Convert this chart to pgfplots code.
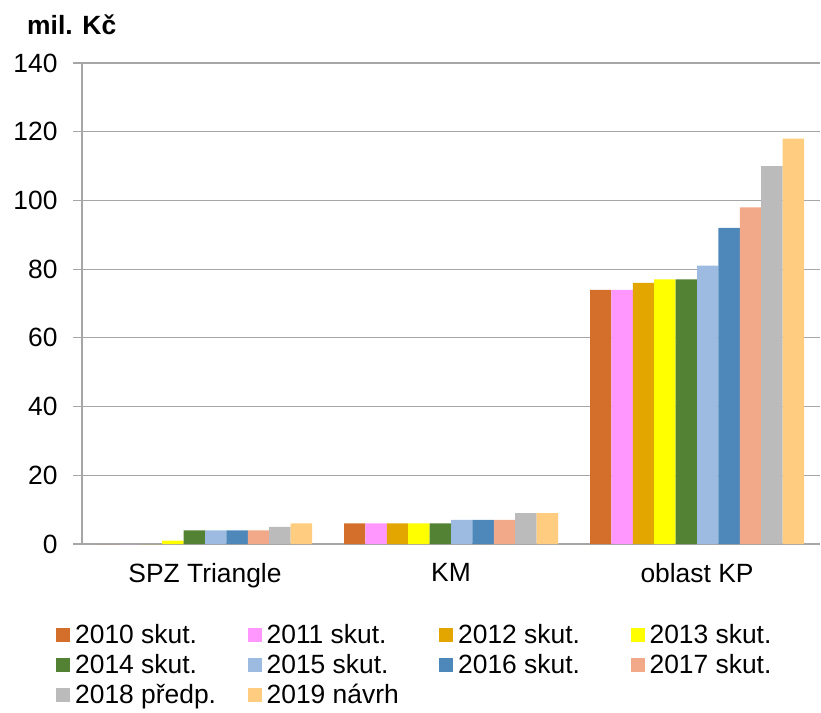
\documentclass[border=0pt]{standalone}
\usepackage{pgfplots}
\pgfplotsset{compat=1.18}
\usepackage{fontspec}
\setmainfont{Liberation Sans}
\definecolor{c10}{HTML}{D46E2B}
\definecolor{c11}{HTML}{FF97FF}
\definecolor{c12}{HTML}{E3A600}
\definecolor{c13}{HTML}{FFFF00}
\definecolor{c14}{HTML}{548235}
\definecolor{c15}{HTML}{9DBBE0}
\definecolor{c16}{HTML}{4E88BB}
\definecolor{c17}{HTML}{F1A98A}
\definecolor{c18}{HTML}{BBBBBB}
\definecolor{c19}{HTML}{FFCC80}
\definecolor{gridc}{HTML}{A6A6A6}
\newcommand{\lf}{\fontsize{26.5}{30}\selectfont}
\newcommand{\lgent}[1]{\makebox[173.5bp][l]{\hspace{3bp}#1}}
\begin{document}
\begin{tikzpicture}
\begin{axis}[
  scale only axis, width=738bp, height=481bp,
  ymin=0, ymax=140, ytick distance=20,
  xmin=-0.5, xmax=2.5,
  xtick={0,1,2}, xticklabels={SPZ Triangle, KM, oblast KP},
  x tick style={draw=none},
  extra x ticks={-0.5,0.5,1.5,2.5}, extra x tick labels={},
  extra x tick style={tick style={draw=gridc, line width=1bp}, major tick length=9bp, tick align=outside, grid=none},
  ymajorgrids, grid style={draw=gridc, line width=1.2bp},
  y tick style={draw=gridc, line width=1.2bp}, major tick length=9bp, tick align=outside,
  axis x line*=bottom, axis y line*=left,
  axis line style={-, draw=gridc, line width=1.2bp},
  /pgf/number format/assume math mode=true,
  ticklabel style={font=\lf},
  xticklabel style={yshift=-7bp},
  yticklabel style={xshift=-12bp},
  ybar=0pt, bar width=21.4bp,
  every axis plot/.append style={draw=none},
  legend style={at={(rel axis cs:0,0)}, anchor=north west, xshift=-29bp, yshift=-76bp,
    draw=none, fill=none, font=\lf, legend columns=4,
    /tikz/every even column/.append style={column sep=0bp},
    row sep=5.5bp},
  legend cell align=left,
  legend image code/.code={\fill[#1] (0bp,-7bp) rectangle (14bp,7bp);},
]
\addplot[fill=c10] coordinates {(0,0) (1,6) (2,74)};
\addplot[fill=c11] coordinates {(0,0) (1,6) (2,74)};
\addplot[fill=c12] coordinates {(0,0) (1,6) (2,76)};
\addplot[fill=c13] coordinates {(0,1) (1,6) (2,77)};
\addplot[fill=c14] coordinates {(0,4) (1,6) (2,77)};
\addplot[fill=c15] coordinates {(0,4) (1,7) (2,81)};
\addplot[fill=c16] coordinates {(0,4) (1,7) (2,92)};
\addplot[fill=c17] coordinates {(0,4) (1,7) (2,98)};
\addplot[fill=c18] coordinates {(0,5) (1,9) (2,110)};
\addplot[fill=c19] coordinates {(0,6) (1,9) (2,118)};
\legend{\lgent{2010 skut.},\lgent{2011 skut.},\lgent{2012 skut.},\lgent{2013 skut.},\lgent{2014 skut.},\lgent{2015 skut.},\lgent{2016 skut.},\lgent{2017 skut.},\lgent{2018 předp.},\lgent{2019 návrh}}
\coordinate (bl) at (rel axis cs:0,0);
\coordinate (tl) at (rel axis cs:0,1);
\coordinate (tr) at (rel axis cs:1,1);
\end{axis}
\node[anchor=base west, font=\lf\bfseries, inner sep=0pt] at ([xshift=-55bp,yshift=28bp]tl) {mil. Kč};
\pgfresetboundingbox
\path ([xshift=-82bp,yshift=-169bp]bl) rectangle ([xshift=1bp,yshift=63bp]tr);
\end{tikzpicture}
\end{document}
